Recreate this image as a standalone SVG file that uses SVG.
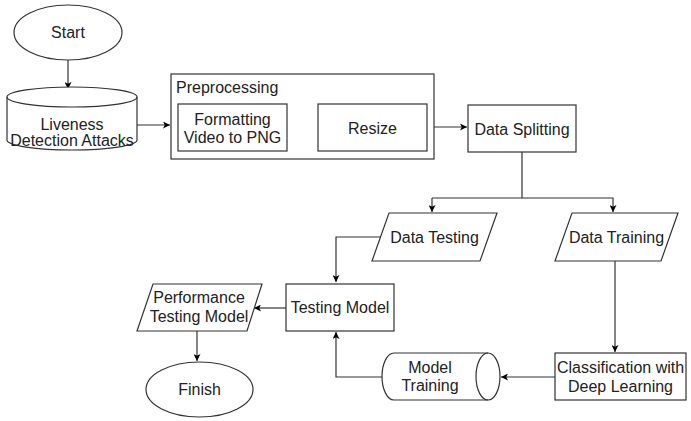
<svg xmlns="http://www.w3.org/2000/svg" width="691" height="421" viewBox="0 0 691 421">
<defs>
<marker id="ah" viewBox="0 0 10 10" refX="10" refY="5" markerWidth="7" markerHeight="7" markerUnits="userSpaceOnUse" orient="auto">
<path d="M0,0 L10,5 L0,10 L2.5,5 Z" fill="#000"/>
</marker>
</defs>
<style>
.s{fill:#fff;stroke:#333;stroke-width:1.2}
.n{fill:none;stroke:#333;stroke-width:1.2}
.c{fill:none;stroke:#333;stroke-width:1.2;marker-end:url(#ah)}
text{font-family:"Liberation Sans",Arial,sans-serif;font-size:16px;fill:#222;text-anchor:middle}
</style>
<rect width="691" height="421" fill="#fff"/>
<g id="connectors">
<path class="c" d="M68,60 L68,89"/>
<path class="c" d="M137,125 L170,125"/>
<path class="c" d="M287,125 L317,125"/>
<path class="c" d="M434,127 L467,127"/>
<path class="n" d="M522,152 L522,198 L432,198"/>
<path class="c" d="M432,198 L432,212"/>
<path class="c" d="M522,198 L613,198 L613,212"/>
<path class="c" d="M383,237 L336,237 L336,282"/>
<path class="c" d="M286,308 L254,308"/>
<path class="c" d="M197,331 L197,361"/>
<path class="c" d="M615,261 L615,352"/>
<path class="c" d="M555,377 L501,377"/>
<path class="c" d="M382,377 L336,377 L336,332"/>
</g>
<g id="start">
<ellipse class="s" cx="68" cy="32.5" rx="54" ry="27.5"/>
<text x="68" y="38">Start</text>
</g>
<g id="liveness">
<path class="s" d="M7,97 A65,10 0 0 1 137,97 L137,140 A65,10 0 0 1 7,140 Z"/>
<path class="n" d="M7,97 A65,10 0 0 0 137,97"/>
<text x="72" y="130">Liveness</text>
<text x="72" y="146">Detection Attacks</text>
</g>
<g id="preprocessing">
<rect class="s" x="171" y="74" width="263" height="85"/>
<text x="176" y="93" style="text-anchor:start">Preprocessing</text>
</g>
<g id="formatting">
<rect class="s" x="178" y="104" width="109" height="47"/>
<text x="232.5" y="125">Formatting</text>
<text x="232.5" y="143">Video to PNG</text>
</g>
<g id="resize">
<rect class="s" x="318" y="104" width="109" height="47"/>
<text x="372.5" y="134">Resize</text>
</g>
<g id="splitting">
<rect class="s" x="468" y="105" width="108" height="47"/>
<text x="522" y="135">Data Splitting</text>
</g>
<g id="testing">
<path class="s" d="M389,213 L497,213 L480,261 L372,261 Z"/>
<text x="434.5" y="243">Data Testing</text>
</g>
<g id="training">
<path class="s" d="M572,213 L678,213 L661,261 L555,261 Z"/>
<text x="616.5" y="243">Data Training</text>
</g>
<g id="testingmodel">
<rect class="s" x="286" y="284" width="108" height="47"/>
<text x="340" y="313">Testing Model</text>
</g>
<g id="performance">
<path class="s" d="M153,284 L262,284 L247,331 L137,331 Z"/>
<text x="199" y="303">Performance</text>
<text x="199" y="322">Testing Model</text>
</g>
<g id="finish">
<ellipse class="s" cx="199.5" cy="389.5" rx="53.5" ry="27.5"/>
<text x="199.5" y="395">Finish</text>
</g>
<g id="modeltraining">
<path class="s" d="M394,353 L488,353 A12,23.5 0 0 1 488,400 L394,400 A12,23.5 0 0 1 394,353 Z"/>
<path class="n" d="M488,353 A12,23.5 0 0 0 488,400"/>
<text x="430" y="373">Model</text>
<text x="430" y="391">Training</text>
</g>
<g id="classification">
<rect class="s" x="555" y="353" width="131" height="47"/>
<text x="620.5" y="373">Classification with</text>
<text x="620.5" y="392">Deep Learning</text>
</g>
</svg>
